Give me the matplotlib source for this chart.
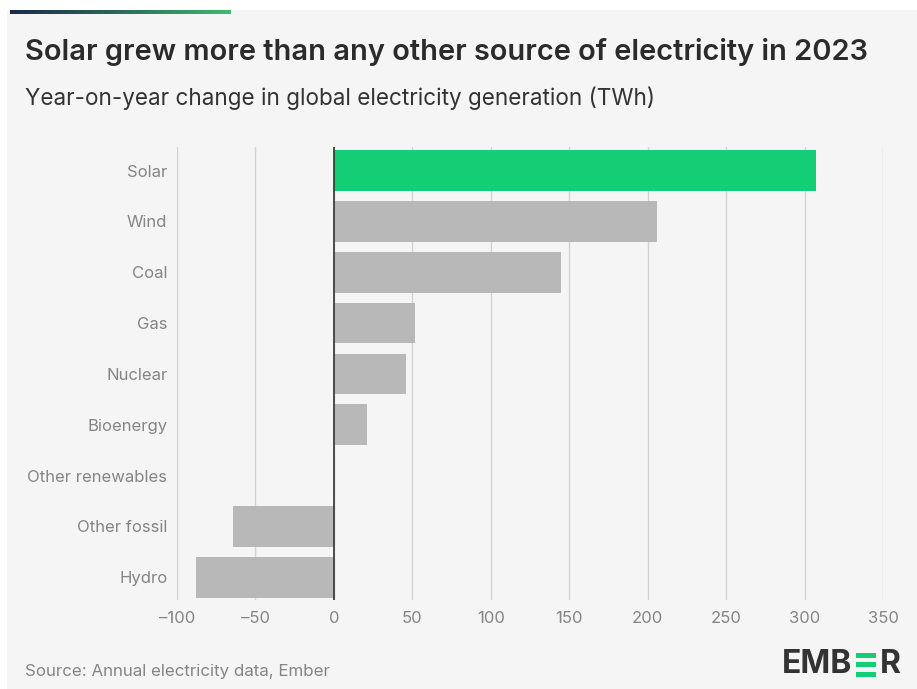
import matplotlib.pyplot as plt
import matplotlib.patches as patches
from matplotlib.colors import LinearSegmentedColormap
import numpy as np

plt.rcParams['font.family'] = ['Inter', 'DejaVu Sans']

sources = ['Solar', 'Wind', 'Coal', 'Gas', 'Nuclear', 'Bioenergy',
           'Other renewables', 'Other fossil', 'Hydro']
change_twh = [307, 206, 145, 52, 46, 21, 0.5, -64, -88]
bar_colors = ['#13ce74'] + ['#b8b8b8'] * 8
xticks = [-100, -50, 0, 50, 100, 150, 200, 250, 300, 350]

bg = '#f5f5f5'
fig = plt.figure(figsize=(9.17, 6.89), dpi=100)
fig.patch.set_facecolor('white')

# light panel behind everything
fig.add_artist(patches.Rectangle((0.008, 0.0), 0.992, 0.985, transform=fig.transFigure,
                                 facecolor=bg, edgecolor='none', zorder=-10))

# gradient strip at top-left
grad = np.linspace(0, 1, 256).reshape(1, -1)
cmap = LinearSegmentedColormap.from_list('ember', ['#1b2a4a', '#2c6a5a', '#3dbb6e'])
gax = fig.add_axes([0.011, 0.979, 0.24, 0.006])
gax.imshow(grad, aspect='auto', cmap=cmap)
gax.axis('off')

ax = fig.add_axes([0.193, 0.129, 0.770, 0.658])
ax.set_facecolor(bg)
y = np.arange(len(sources))
ax.barh(y, change_twh, height=0.8, color=bar_colors, zorder=3)
ax.axvline(0, color='#333333', lw=1.2, zorder=4)
ax.set_xlim(-100, 350)
ax.set_ylim(8.45, -0.47)
ax.set_xticks(xticks)
ax.set_xticklabels([str(t).replace('-', '\u2013') for t in xticks])
ax.set_yticks(y)
ax.set_yticklabels(sources)
ax.grid(axis='x', color='#d2d2d2', lw=1, zorder=0)
for s in ax.spines.values():
    s.set_visible(False)
ax.tick_params(axis='both', length=0, labelsize=12, labelcolor='#858585')
ax.tick_params(axis='x', pad=8)
ax.tick_params(axis='y', pad=7)

fig.text(0.027, 0.925, 'Solar grew more than any other source of electricity in 2023',
         fontsize=20.9, fontweight='semibold', color='#2b2b2b', va='center')
fig.text(0.027, 0.857, 'Year-on-year change in global electricity generation (TWh)',
         fontsize=16.2, color='#333333', va='center')
fig.text(0.027, 0.025, 'Source: Annual electricity data, Ember',
         fontsize=12.2, color='#858585', va='center')

# EMBER logo
fig.canvas.draw()
r = fig.canvas.get_renderer()
logo_y = 0.035
t1 = fig.text(782 / 917, logo_y, 'EMB', fontsize=23, fontweight='bold', color='#333333',
              ha='left', va='center')
bb = t1.get_window_extent(renderer=r).transformed(fig.transFigure.inverted())
ex0 = bb.x1 + 0.004
ew = 0.022
cap_h = bb.height * 0.78
for k in range(3):
    fig.add_artist(patches.Rectangle((ex0, logo_y - cap_h / 2 + k * (cap_h - 0.0075) / 2),
                                     ew, 0.0075, transform=fig.transFigure,
                                     facecolor='#13ce74', edgecolor='none'))
fig.text(ex0 + ew + 0.004, logo_y, 'R', fontsize=23, fontweight='bold', color='#333333',
         ha='left', va='center')

fig.savefig('out.png', dpi=100, facecolor=fig.get_facecolor())
